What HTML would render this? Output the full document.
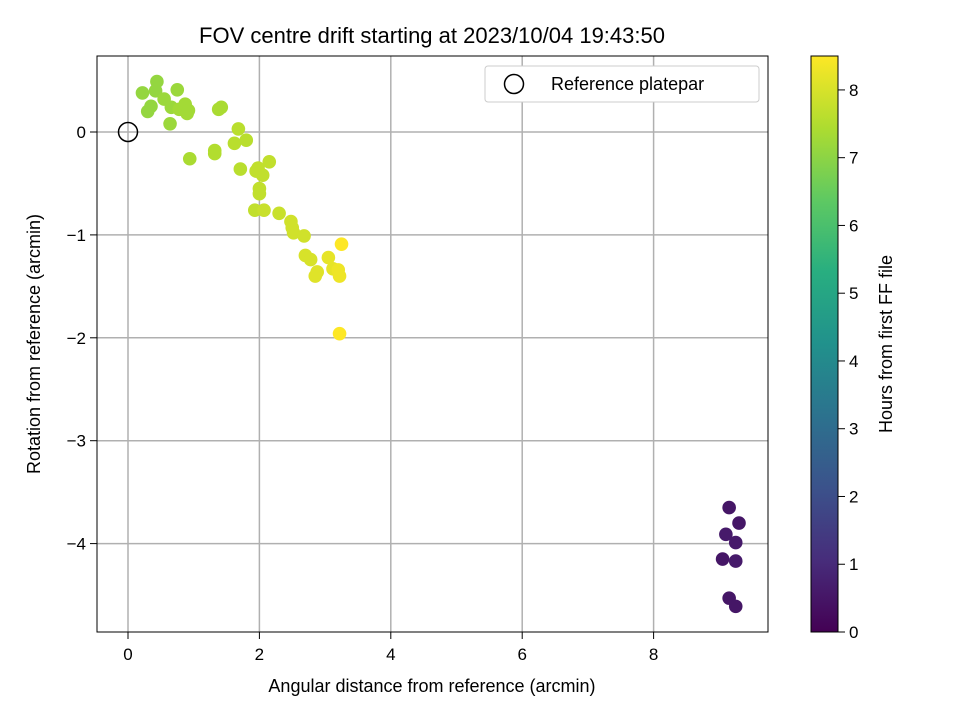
<!DOCTYPE html>
<html><head><meta charset="utf-8"><style>body{margin:0;background:#fff}svg{font-family:"Liberation Sans","DejaVu Sans",sans-serif}</style></head>
<body>
<svg id="chart" width="960" height="720" viewBox="0 0 960 720" xmlns="http://www.w3.org/2000/svg">
<defs><linearGradient id="vir" x1="0" y1="1" x2="0" y2="0">
<stop offset="0" stop-color="#440154"/><stop offset="0.125" stop-color="#472d7b"/><stop offset="0.25" stop-color="#3b528b"/><stop offset="0.375" stop-color="#2c728e"/><stop offset="0.5" stop-color="#21918c"/><stop offset="0.625" stop-color="#28ae80"/><stop offset="0.75" stop-color="#5ec962"/><stop offset="0.875" stop-color="#addc30"/><stop offset="1" stop-color="#fde725"/></linearGradient></defs>
<g id="grid"></g>
<g id="pts"></g>
<rect x="97" y="56" width="671" height="576" fill="none" stroke="#000"/>
<g id="axes"></g>
<text x="432" y="43" font-size="22" text-anchor="middle">FOV centre drift starting at 2023/10/04 19:43:50</text>
<text x="432" y="692" font-size="18" text-anchor="middle">Angular distance from reference (arcmin)</text>
<text transform="translate(40,344) rotate(-90)" font-size="18" text-anchor="middle">Rotation from reference (arcmin)</text>
<g>
<rect x="485" y="66" width="274" height="36" rx="3" fill="#fff" stroke="#ccc"/>
<circle cx="514" cy="84" r="9.5" fill="none" stroke="#000" stroke-width="1.5"/>
<text x="551" y="90" font-size="18">Reference platepar</text></g>
<rect x="811" y="56" width="27" height="576" fill="url(#vir)" stroke="#000"/>
<g id="cb"></g>
<text transform="translate(892,344) rotate(-90)" font-size="18" text-anchor="middle">Hours from first FF file</text>
</svg>
<script>
const xTicks=[0,2,4,6,8];
const yTicks=[0,-1,-2,-3,-4];
const cbTicks=[0,1,2,3,4,5,6,7,8];
const xs=[0.22,0.44,0.42,0.35,0.3,0.55,0.66,0.75,0.64,0.78,0.87,0.9,0.92,0.94,1.32,1.32,1.38,1.42,1.62,1.68,1.71,1.8,1.93,1.95,1.98,2.0,2.0,2.05,2.07,2.15,2.3,2.48,2.5,2.52,2.68,2.7,2.78,2.85,2.88,3.05,3.12,3.2,3.22,3.25,3.22,9.15,9.3,9.1,9.25,9.05,9.25,9.15,9.25];
const ys=[0.38,0.49,0.4,0.25,0.2,0.32,0.24,0.41,0.08,0.22,0.27,0.18,0.21,-0.26,-0.18,-0.21,0.22,0.24,-0.11,0.03,-0.36,-0.08,-0.76,-0.38,-0.35,-0.55,-0.6,-0.42,-0.76,-0.29,-0.79,-0.87,-0.93,-0.98,-1.01,-1.2,-1.24,-1.4,-1.36,-1.22,-1.33,-1.34,-1.4,-1.09,-1.96,-3.65,-3.8,-3.91,-3.99,-4.15,-4.17,-4.53,-4.61];
const hours=[7.1,7.1,7.1,7.1,7.1,7.2,7.2,7.2,7.2,7.3,7.3,7.3,7.3,7.4,7.5,7.5,7.4,7.4,7.6,7.6,7.6,7.6,7.7,7.7,7.7,7.7,7.7,7.7,7.8,7.7,7.8,7.9,7.9,7.9,7.9,8.0,8.0,8.1,8.1,8.2,8.2,8.3,8.3,8.5,8.5,0.5,0.5,0.6,0.6,0.5,0.6,0.5,0.5];
const X=v=>128+v*65.7, Y=v=>132-v*102.9, CB=v=>632-v*67.76;
const NS="http://www.w3.org/2000/svg";
function mk(t,a,p){const e=document.createElementNS(NS,t);for(const k in a)e.setAttribute(k,a[k]);p.appendChild(e);return e;}
const vir=[[68,1,84],[71,45,123],[59,82,139],[44,114,142],[33,145,140],[40,174,128],[94,201,98],[173,220,48],[253,231,37]];
function col(h){let t=Math.max(0,Math.min(1,h/8.5))*(vir.length-1);let i=Math.min(vir.length-2,Math.floor(t)),f=t-i;const c=vir[i].map((v,k)=>Math.round(v+(vir[i+1][k]-v)*f));return `rgb(${c})`;}
const g=document.getElementById('grid'),ax=document.getElementById('axes'),P=document.getElementById('pts'),cb=document.getElementById('cb');
xTicks.forEach(v=>{const x=X(v);
const l=mk('line',{x1:x,x2:x,y1:56,y2:632,stroke:'#b0b0b0','stroke-width':1.5},g);


mk('line',{x1:x,x2:x,y1:632,y2:639,stroke:'#000'},ax);
const t=mk('text',{x:x,y:660,'font-size':17,'text-anchor':'middle'},ax);t.textContent=v;

});
yTicks.forEach(v=>{const y=Y(v);
const l=mk('line',{x1:97,x2:768,y1:y,y2:y,stroke:'#b0b0b0','stroke-width':1.5},g);


mk('line',{x1:90,x2:97,y1:y,y2:y,stroke:'#000'},ax);
const t=mk('text',{x:86,y:y+6,'font-size':17,'text-anchor':'end'},ax);t.textContent=v<0?'\u2212'+(-v):v;

});
xs.forEach((v,i)=>{const c=mk('circle',{cx:X(v),cy:Y(ys[i]),r:6.8,fill:col(hours[i])},P);

});
const ref=mk('circle',{cx:X(0),cy:Y(0),r:9.5,fill:'none',stroke:'#000','stroke-width':1.5},P);


cbTicks.forEach(v=>{const y=CB(v);
mk('line',{x1:838,x2:845,y1:y,y2:y,stroke:'#000'},cb);
const t=mk('text',{x:849,y:y+6,'font-size':17},cb);t.textContent=v;

});
</script>
</body></html>
